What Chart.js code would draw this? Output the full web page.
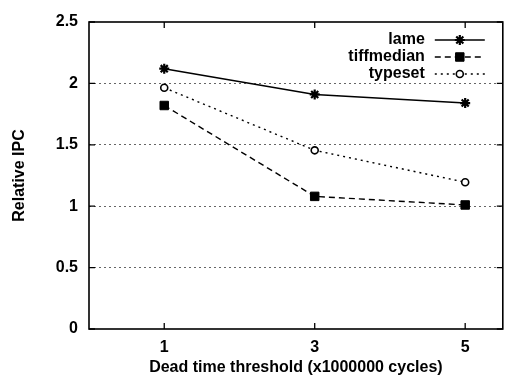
<!DOCTYPE html>
<html>
<head>
<meta charset="utf-8">
<script src="https://cdn.jsdelivr.net/npm/chart.js@4/dist/chart.umd.min.js"></script>
<style>
  html, body { margin: 0; padding: 0; background: #fff; }
  #wrap { width: 510px; height: 381px; }
</style>
</head>
<body>
<div id="wrap"><canvas id="ipcChart" width="510" height="381"></canvas></div>
<script>
// data
const thresholds = [1, 3, 5];
const lameIpc = [2.12, 1.91, 1.84];
const tiffmedianIpc = [1.82, 1.08, 1.01];
const typesetIpc = [1.965, 1.455, 1.195];
const xTicks = [1, 3, 5];
const seriesNames = ['lame', 'tiffmedian', 'typeset'];

const FONT = "'Liberation Sans', Arial, Helvetica, sans-serif";

const toPoints = (vals) => thresholds.map((t, i) => ({ x: t, y: vals[i] }));

// box around the plot with inward ticks on all four sides (gnuplot style)
const frame = {
  id: 'frame',
  afterDraw(chart) {
    const { ctx, chartArea: a, scales } = chart;
    const len = 6;
    ctx.save();
    ctx.strokeStyle = '#000';
    ctx.lineWidth = 1.6;
    ctx.strokeRect(a.left, a.top, a.right - a.left, a.bottom - a.top);
    ctx.lineWidth = 1.3;
    ctx.beginPath();
    scales.y.ticks.forEach(t => {
      const y = scales.y.getPixelForValue(t.value);
      ctx.moveTo(a.left, y); ctx.lineTo(a.left + len, y);
      ctx.moveTo(a.right, y); ctx.lineTo(a.right - len, y);
    });
    xTicks.forEach(v => {
      const x = scales.x.getPixelForValue(v);
      ctx.moveTo(x, a.bottom); ctx.lineTo(x, a.bottom - len);
      ctx.moveTo(x, a.top); ctx.lineTo(x, a.top + len);
    });
    ctx.stroke();
    ctx.restore();
  }
};

// legend inside the top right corner, label text before the line sample
const keyBox = {
  id: 'keyBox',
  afterDraw(chart) {
    const { ctx, chartArea: a } = chart;
    const textRight = a.right - 78;
    const lineL = a.right - 68, lineR = a.right - 18;
    ctx.save();
    ctx.font = 'bold 16px ' + FONT;
    ctx.textAlign = 'right';
    ctx.textBaseline = 'middle';
    chart.data.datasets.forEach((ds, i) => {
      const y = a.top + 18 + i * 17;
      ctx.fillStyle = '#000';
      ctx.fillText(ds.label, textRight, y);
      ctx.strokeStyle = '#000';
      ctx.lineWidth = ds.borderWidth;
      ctx.setLineDash(ds.borderDash || []);
      ctx.beginPath();
      ctx.moveTo(lineL, y); ctx.lineTo(lineR, y);
      ctx.stroke();
      ctx.setLineDash([]);
      ctx.fillStyle = ds.pointBackgroundColor;
      ctx.lineWidth = ds.pointBorderWidth;
      Chart.helpers.drawPoint(ctx, {
        pointStyle: ds.pointStyle,
        radius: ds.pointRadius,
        borderWidth: ds.pointBorderWidth,
        rotation: 0
      }, (lineL + lineR) / 2, y);
    });
    ctx.restore();
  }
};

const dsCommon = {
  borderColor: '#000',
  pointBorderColor: '#000',
  fill: false,
  tension: 0,
  clip: false
};

const fmt = (v) => String(v);

new Chart(document.getElementById('ipcChart'), {
  type: 'line',
  data: {
    datasets: [
      Object.assign({}, dsCommon, {
        label: seriesNames[0],
        data: toPoints(lameIpc),
        borderWidth: 1.6,
        pointStyle: 'star',
        pointRadius: 5,
        pointBorderWidth: 2.2,
        pointBackgroundColor: '#000'
      }),
      Object.assign({}, dsCommon, {
        label: seriesNames[1],
        data: toPoints(tiffmedianIpc),
        borderWidth: 1.4,
        borderDash: [6, 4],
        pointStyle: 'rect',
        pointRadius: 6,
        pointBorderWidth: 1,
        pointBackgroundColor: '#000'
      }),
      Object.assign({}, dsCommon, {
        label: seriesNames[2],
        data: toPoints(typesetIpc),
        borderWidth: 1.4,
        borderDash: [2, 4],
        pointStyle: 'circle',
        pointRadius: 3.5,
        pointBorderWidth: 1.6,
        pointBackgroundColor: '#fff'
      })
    ]
  },
  options: {
    responsive: false,
    animation: false,
    layout: { padding: { top: 22, right: 2, left: 10, bottom: 0 } },
    plugins: {
      legend: { display: false },
      tooltip: { enabled: false }
    },
    scales: {
      x: {
        type: 'linear',
        min: 0,
        max: 5.5,
        afterBuildTicks: (scale) => { scale.ticks = xTicks.map(v => ({ value: v })); },
        afterFit: (scale) => { scale.height = 52; },
        grid: { display: false, drawTicks: false },
        border: { display: false },
        ticks: {
          color: '#000',
          padding: 9,
          maxRotation: 0,
          callback: fmt,
          font: { family: FONT, size: 16, weight: 'bold' }
        },
        title: {
          display: true,
          text: 'Dead time threshold (x1000000 cycles)',
          color: '#000',
          padding: { top: 0, bottom: 4 },
          font: { family: FONT, size: 16, weight: 'bold' }
        }
      },
      y: {
        min: 0,
        max: 2.5,
        afterFit: (scale) => { scale.width = 79; },
        ticks: {
          stepSize: 0.5,
          color: '#000',
          padding: 11,
          callback: fmt,
          font: { family: FONT, size: 16, weight: 'bold' }
        },
        grid: {
          drawTicks: false,
          lineWidth: 1,
          color: (c) => (c.tick && (c.tick.value === 0 || c.tick.value === 2.5)) ? 'rgba(0,0,0,0)' : '#666'
        },
        border: { display: false, dash: [2, 3] },
        title: {
          display: true,
          text: 'Relative IPC',
          color: '#000',
          padding: { top: 0, bottom: 0 },
          font: { family: FONT, size: 16, weight: 'bold' }
        }
      }
    }
  },
  plugins: [frame, keyBox]
});
</script>
</body>
</html>
